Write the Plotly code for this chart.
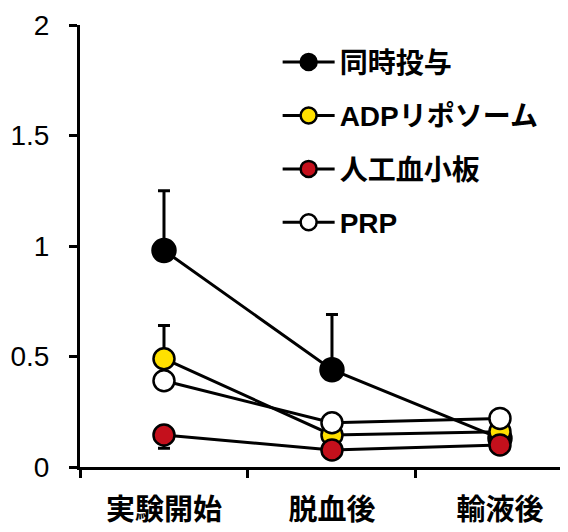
import plotly.graph_objects as go

categories = ["実験開始", "脱血後", "輸液後"]

series_names = ["同時投与", "ADPリポソーム", "人工血小板", "PRP"]
simultaneous = [0.98, 0.44, 0.13]
adp_liposome = [0.49, 0.145, 0.16]
artificial_platelet = [0.145, 0.077, 0.10]
prp = [0.39, 0.20, 0.22]

simultaneous_err_up = [0.27, 0.25, 0.0]
adp_err_up = [0.15, 0.0, 0.0]
artificial_err_down = [0.06, 0.0, 0.0]

fill_colors = ["#000000", "#FFE000", "#C4101C", "#FFFFFF"]
marker_sizes = [23, 21, 21, 21]

values = [simultaneous, adp_liposome, artificial_platelet, prp]
err_specs = [
    dict(up=simultaneous_err_up, down=[0, 0, 0]),
    dict(up=adp_err_up, down=[0, 0, 0]),
    dict(up=[0, 0, 0], down=artificial_err_down),
    None,
]

fig = go.Figure()
for name, vals, col, sz, err in zip(series_names, values, fill_colors, marker_sizes, err_specs):
    kw = {}
    if err is not None:
        kw["error_y"] = dict(type="data", symmetric=False, array=err["up"], arrayminus=err["down"],
                             color="black", thickness=3, width=6)
    fig.add_trace(go.Scatter(
        x=categories, y=vals, name=name, mode="lines+markers",
        line=dict(color="black", width=3),
        marker=dict(color=col, size=sz, line=dict(color="black", width=2.5)),
        cliponaxis=False, legendgroup=name, **kw))

# page body has an 8px margin, so the figure is sized/margined to compensate
fig.update_layout(
    width=560, height=524,
    margin=dict(l=72, r=0, t=17, b=65),
    paper_bgcolor="white", plot_bgcolor="white",
    font=dict(family="Arial, Liberation Sans, Noto Sans CJK JP", color="black"),
    showlegend=True,
    legend=dict(x=0.405, y=0.972, xanchor="left", yanchor="top",
                bgcolor="rgba(0,0,0,0)", tracegroupgap=14, itemwidth=52,
                font=dict(size=28, family="Arial, Liberation Sans, Noto Sans CJK JP", weight="bold")),
)
fig.update_xaxes(
    type="category", range=[-0.5, 2.405], tickson="boundaries", automargin=False,
    showline=True, linecolor="black", linewidth=3, showgrid=False, zeroline=False,
    ticks="outside", ticklen=8, tickwidth=3, tickcolor="black",
    tickfont=dict(size=29, family="Noto Sans CJK JP", weight="bold"),
    ticklabelstandoff=15,
)
fig.update_yaxes(
    range=[0, 2], tickvals=[0, 0.5, 1, 1.5, 2], ticktext=["0", "0.5", "1", "1.5", "2"],
    automargin=False,
    showline=True, linecolor="black", linewidth=3, showgrid=False, zeroline=False,
    ticks="outside", ticklen=8, tickwidth=3, tickcolor="black",
    tickfont=dict(size=28), ticklabelstandoff=14,
)

fig.write_html("out.html")
